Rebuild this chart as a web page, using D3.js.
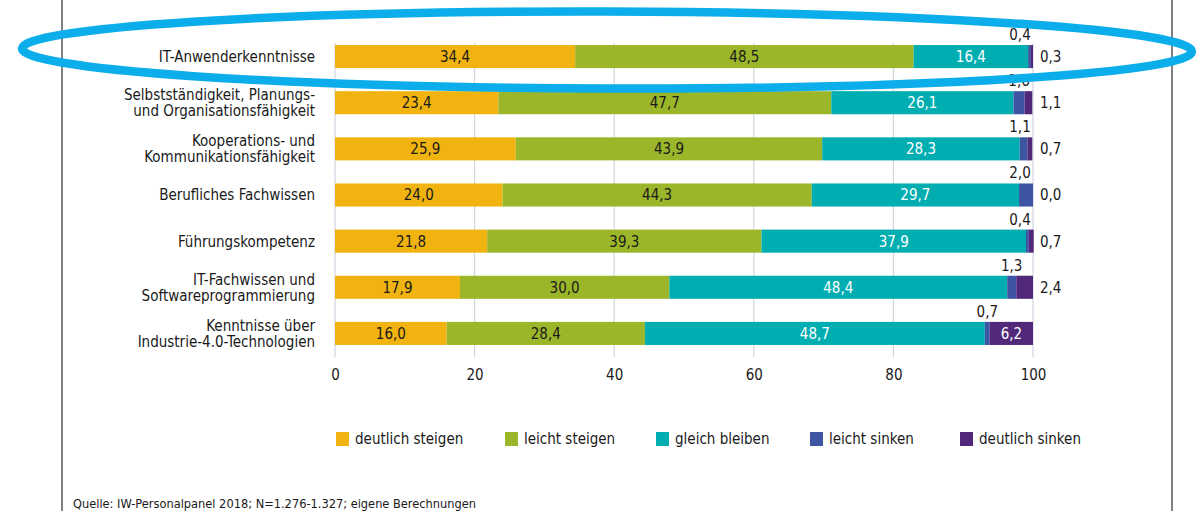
<!DOCTYPE html>
<html>
<head>
<meta charset="utf-8">
<script src="https://cdn.jsdelivr.net/npm/d3@7"></script>
<style>
  body { margin: 0; background: #fff; }
  text { font-family: "DejaVu Sans Condensed", "DejaVu Sans", sans-serif; }
</style>
</head>
<body>
<div id="chart"></div>
<script>
var categories = [
  ["IT-Anwenderkenntnisse"],
  ["Selbstständigkeit, Planungs-", "und Organisationsfähigkeit"],
  ["Kooperations- und", "Kommunikationsfähigkeit"],
  ["Berufliches Fachwissen"],
  ["Führungskompetenz"],
  ["IT-Fachwissen und", "Softwareprogrammierung"],
  ["Kenntnisse über", "Industrie-4.0-Technologien"]
];
var seriesNames = ["deutlich steigen", "leicht steigen", "gleich bleiben", "leicht sinken", "deutlich sinken"];
var deutlichSteigen = [34.4, 23.4, 25.9, 24.0, 21.8, 17.9, 16.0];
var leichtSteigen = [48.5, 47.7, 43.9, 44.3, 39.3, 30.0, 28.4];
var gleichBleiben = [16.4, 26.1, 28.3, 29.7, 37.9, 48.4, 48.7];
var leichtSinken = [0.4, 1.6, 1.1, 2.0, 0.4, 1.3, 0.7];
var deutlichSinken = [0.3, 1.1, 0.7, 0.0, 0.7, 2.4, 6.2];
var ticks = [0, 20, 40, 60, 80, 100];
var source = "Quelle: IW-Personalpanel 2018; N=1.276-1.327; eigene Berechnungen";

var colors = ["#F0B30F", "#9CB62A", "#00AEB1", "#3E55A3", "#52297A"];
var textColors = ["#1a1a1a", "#1a1a1a", "#ffffff", "#ffffff", "#ffffff"];

var series = [deutlichSteigen, leichtSteigen, gleichBleiben, leichtSinken, deutlichSinken];
var rows = categories.map(function(c, i) {
  var row = { idx: i };
  seriesNames.forEach(function(s, j) { row[s] = series[j][i]; });
  return row;
});

var fmt = function(v) { return d3.format(".1f")(v).replace(".", ","); };

var svg = d3.select("#chart").append("svg")
  .attr("width", 1202)
  .attr("height", 511);

// frame lines left/right
svg.append("line").attr("x1", 62).attr("x2", 62).attr("y1", 0).attr("y2", 511)
  .attr("stroke", "#555").attr("stroke-width", 1.5);
svg.append("line").attr("x1", 1172).attr("x2", 1172).attr("y1", 0).attr("y2", 511)
  .attr("stroke", "#555").attr("stroke-width", 1.5);

var x = d3.scaleLinear().domain([0, 100]).range([335, 1033]);
var y = d3.scaleBand().domain(d3.range(categories.length))
  .range([33.5, 356.5]).paddingInner(0.5).paddingOuter(0.25);

// gridlines
svg.append("g").selectAll("line")
  .data(ticks)
  .enter().append("line")
  .attr("x1", function(d) { return x(d); })
  .attr("x2", function(d) { return x(d); })
  .attr("y1", 43)
  .attr("y2", 357)
  .attr("stroke", "#cfd6df")
  .attr("stroke-width", 1.2);

var axis = svg.append("g")
  .attr("transform", "translate(0,357)")
  .call(d3.axisBottom(x).tickValues(ticks).tickSize(0).tickPadding(12));
axis.select(".domain").remove();
axis.selectAll("text").attr("font-size", 15).attr("fill", "#1a1a1a")
  .style("font-family", "'DejaVu Sans Condensed', sans-serif");

var stack = d3.stack().keys(seriesNames)(rows);

var layers = svg.append("g").selectAll("g")
  .data(stack)
  .enter().append("g")
  .attr("fill", function(d, i) { return colors[i]; });

layers.selectAll("rect")
  .data(function(d) { return d; })
  .enter().append("rect")
  .attr("x", function(d) { return x(d[0]); })
  .attr("y", function(d) { return y(d.data.idx); })
  .attr("width", function(d) { return x(d[1]) - x(d[0]); })
  .attr("height", y.bandwidth());

// values inside bars (big segments)
var labels = svg.append("g").attr("font-size", 15);
stack.forEach(function(layer, k) {
  layer.forEach(function(d) {
    var v = d[1] - d[0];
    var cy = y(d.data.idx) + y.bandwidth() / 2;
    var cx = (x(d[0]) + x(d[1])) / 2;
    if (k < 3 || (k == 4 && v >= 5)) {
      labels.append("text")
        .attr("x", cx).attr("y", cy).attr("dy", "0.36em")
        .attr("text-anchor", "middle")
        .attr("fill", textColors[k])
        .text(fmt(v));
    } else if (k == 3) {
      labels.append("text")
        .attr("x", Math.min(cx, x(100) - 13)).attr("y", y(d.data.idx) - 5)
        .attr("text-anchor", "middle")
        .attr("fill", "#1a1a1a")
        .text(fmt(v));
    } else {
      labels.append("text")
        .attr("x", x(100) + 7).attr("y", cy).attr("dy", "0.36em")
        .attr("fill", "#1a1a1a")
        .text(fmt(v));
    }
  });
});

// category labels
var cats = svg.append("g").selectAll("text")
  .data(categories)
  .enter().append("text")
  .attr("x", 315)
  .attr("y", function(d, i) { return y(i) + y.bandwidth() / 2 - (d.length - 1) * 8; })
  .attr("text-anchor", "end")
  .attr("font-size", 15)
  .attr("fill", "#1a1a1a");
cats.selectAll("tspan")
  .data(function(d) { return d; })
  .enter().append("tspan")
  .attr("x", 315)
  .attr("dy", function(d, i) { return i == 0 ? "0.36em" : 16; })
  .text(function(d) { return d; });

// legend
var legendX = [336, 505, 656, 810, 960];
var legend = svg.append("g").selectAll("g")
  .data(seriesNames)
  .enter().append("g")
  .attr("transform", function(d, i) { return "translate(" + legendX[i] + ",439)"; });
legend.append("rect")
  .attr("x", 0).attr("y", -7).attr("width", 13).attr("height", 14)
  .attr("fill", function(d, i) { return colors[i]; });
legend.append("text")
  .attr("x", 19).attr("dy", "0.36em")
  .attr("font-size", 15)
  .attr("fill", "#1a1a1a")
  .text(function(d) { return d; });

svg.append("text")
  .attr("x", 73).attr("y", 508)
  .attr("font-size", 12.7)
  .attr("fill", "#1a1a1a")
  .text(source);

// highlight ellipse round the first row
svg.append("ellipse")
  .attr("cx", 607).attr("cy", 50)
  .attr("rx", 585).attr("ry", 38.5)
  .attr("fill", "none")
  .attr("stroke", "#0BAEEA")
  .attr("stroke-width", 8.5)
  .attr("transform", "rotate(0.15,607,50)");
</script>
</body>
</html>
